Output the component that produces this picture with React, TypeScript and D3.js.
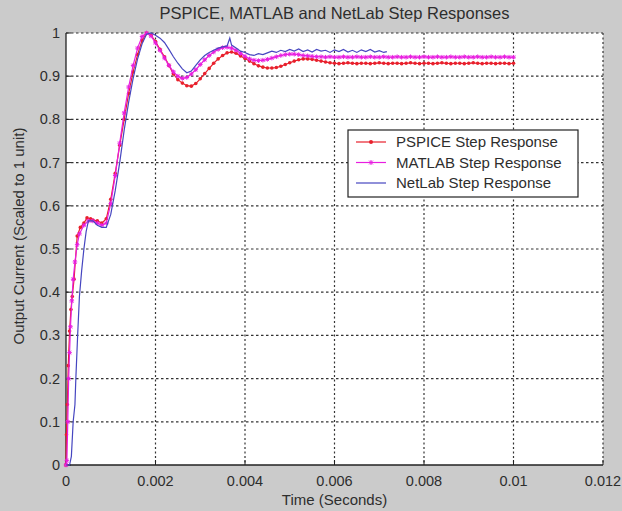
import React from "react";
import * as d3 from "d3";

const xTicks = [0, 0.002, 0.004, 0.006, 0.008, 0.01, 0.012];
const xTickLabels = ["0", "0.002", "0.004", "0.006", "0.008", "0.01", "0.012"];
const yTicks = [0, 0.1, 0.2, 0.3, 0.4, 0.5, 0.6, 0.7, 0.8, 0.9, 1];
const yTickLabels = ["0", "0.1", "0.2", "0.3", "0.4", "0.5", "0.6", "0.7", "0.8", "0.9", "1"];

const seriesNames = ["PSPICE Step Response", "MATLAB Step Response", "NetLab Step Response"];

// PSPICE
const pspiceEarlyT = [0, 0.00001, 0.00003, 0.00005, 0.00008, 0.00011, 0.00014, 0.00018, 0.00025, 0.00032, 0.0004, 0.00047, 0.00055, 0.0006];
const pspiceEarlyV = [0, 0.07, 0.14, 0.23, 0.31, 0.36, 0.39, 0.43, 0.53, 0.55, 0.56, 0.572, 0.57, 0.567];
const pspiceLateV = [
  0.565, 0.56, 0.57, 0.615, 0.675, 0.74, 0.8, 0.86, 0.91, 0.95,
  0.983, 1.0, 0.995, 0.98, 0.962, 0.945, 0.925, 0.905, 0.892, 0.884,
  0.878, 0.877, 0.883, 0.894, 0.906, 0.918, 0.93, 0.94, 0.948, 0.954,
  0.956, 0.953, 0.947, 0.941, 0.935, 0.929, 0.924, 0.921, 0.919, 0.919,
  0.92, 0.923, 0.927, 0.931, 0.935, 0.938, 0.94, 0.94, 0.939, 0.937,
  0.935, 0.933, 0.931, 0.93, 0.929, 0.93, 0.931, 0.93, 0.929, 0.93,
  0.93, 0.929, 0.93, 0.931, 0.93, 0.929, 0.93, 0.93, 0.929, 0.93,
  0.931, 0.93, 0.929, 0.93, 0.93, 0.929, 0.93, 0.931, 0.93, 0.929,
  0.93, 0.93, 0.929, 0.93, 0.931, 0.93, 0.929, 0.93, 0.93, 0.929,
  0.93, 0.93, 0.929, 0.93,
];

// MATLAB
const matlabEarlyT = [0, 0.00002, 0.00004, 0.00006, 0.00008, 0.0001, 0.00013, 0.00016, 0.0002, 0.00025, 0.0003, 0.0004, 0.0005, 0.0006];
const matlabEarlyV = [0, 0.01, 0.1, 0.2, 0.26, 0.32, 0.38, 0.43, 0.47, 0.51, 0.535, 0.555, 0.565, 0.565];
const matlabLateV = [
  0.56, 0.555, 0.56, 0.605, 0.67, 0.745, 0.815, 0.875, 0.925, 0.965,
  0.992, 1.0, 0.993, 0.977, 0.96, 0.942, 0.925, 0.91, 0.9, 0.895,
  0.897, 0.905, 0.915, 0.927, 0.938, 0.948, 0.956, 0.962, 0.966, 0.967,
  0.965, 0.96, 0.953, 0.946, 0.94, 0.937, 0.936, 0.937, 0.939, 0.942,
  0.945, 0.948, 0.95, 0.951, 0.951, 0.95, 0.948, 0.947, 0.946, 0.945,
  0.945, 0.944, 0.945, 0.944, 0.944, 0.945, 0.944, 0.944, 0.945, 0.944,
  0.944, 0.945, 0.944, 0.944, 0.945, 0.944, 0.944, 0.945, 0.944, 0.944,
  0.945, 0.944, 0.944, 0.945, 0.944, 0.944, 0.945, 0.944, 0.944, 0.945,
  0.944, 0.944, 0.945, 0.944, 0.944, 0.945, 0.944, 0.944, 0.945, 0.944,
  0.944, 0.945, 0.944, 0.944,
];

// NetLab
const netlabT = [
  0, 0.00008, 0.00012, 0.00015, 0.00016, 0.0002, 0.00022, 0.00026, 0.0003, 0.00035,
  0.0004, 0.00045, 0.0005, 0.0006, 0.0007, 0.0008, 0.0009, 0.001, 0.0011, 0.0012,
  0.0013, 0.0014, 0.0015, 0.0016, 0.0017, 0.0018, 0.0019, 0.002, 0.0021, 0.0022,
  0.0023, 0.0024, 0.0025, 0.0026, 0.0027, 0.0028, 0.0029, 0.003, 0.0031, 0.0032,
  0.0033, 0.0034, 0.0035, 0.0036, 0.00366, 0.0037, 0.0038, 0.0039, 0.004, 0.0041,
  0.0042, 0.0043, 0.0044, 0.0045, 0.0046, 0.0047, 0.0048, 0.0049, 0.005, 0.0051,
  0.0052, 0.0053, 0.0054, 0.0055, 0.0056, 0.0057, 0.0058, 0.0059, 0.006, 0.0061,
  0.0062, 0.0063, 0.0064, 0.0065, 0.0066, 0.0067, 0.0068, 0.0069, 0.007, 0.0071,
  0.00717,
];
const netlabV = [
  0, 0.0, 0.02, 0.08, 0.1, 0.14, 0.2, 0.3, 0.39, 0.45,
  0.5, 0.54, 0.565, 0.565, 0.555, 0.55, 0.55, 0.58, 0.635, 0.7,
  0.775, 0.84, 0.895, 0.94, 0.975, 0.997, 1.0, 0.995, 0.988, 0.978,
  0.962, 0.945, 0.93, 0.917, 0.908, 0.912, 0.925, 0.938, 0.948, 0.955,
  0.96, 0.965, 0.968, 0.97, 0.988, 0.972, 0.965, 0.958, 0.955, 0.95,
  0.948, 0.952, 0.95, 0.954, 0.958, 0.955, 0.96, 0.957, 0.962, 0.958,
  0.963, 0.957, 0.961, 0.956, 0.962, 0.958, 0.96, 0.955, 0.961, 0.957,
  0.962, 0.956, 0.96, 0.955, 0.961, 0.957, 0.962, 0.956, 0.959, 0.955,
  0.957,
];

const lateT = d3.range(7, 101).map((i) => i / 10000);

const W = 622;
const H = 511;
const M = { left: 66, right: 603, top: 33, bottom: 465 };

const FONT = "'Liberation Sans', Arial, sans-serif";
const TXT = "#2e2e2e";
const RED = "#e8202c";
const MAG = "#e81ee0";
const BLUE = "#4646c0";

export default function App() {
  const x = d3.scaleLinear().domain([0, 0.012]).range([M.left, M.right]);
  const y = d3.scaleLinear().domain([0, 1]).range([M.bottom, M.top]);

  const pspice = [...pspiceEarlyT.map((t, i) => [t, pspiceEarlyV[i]]), ...lateT.map((t, i) => [t, pspiceLateV[i]])].filter((d) => d[1] !== undefined);
  const matlab = [...matlabEarlyT.map((t, i) => [t, matlabEarlyV[i]]), ...lateT.map((t, i) => [t, matlabLateV[i]])].filter((d) => d[1] !== undefined);
  const netlab = netlabT.map((t, i) => [t, netlabV[i]]);

  const line = d3
    .line<number[]>()
    .x((d) => x(d[0]))
    .y((d) => y(d[1]));

  const starPath = (cx: number, cy: number, s: number) =>
    `M${cx - s},${cy}L${cx + s},${cy}M${cx},${cy - s}L${cx},${cy + s}M${cx - s * 0.75},${cy - s * 0.75}L${cx + s * 0.75},${cy + s * 0.75}M${cx - s * 0.75},${cy + s * 0.75}L${cx + s * 0.75},${cy - s * 0.75}`;

  const lg = { x: 348, y: 130, w: 230, h: 67 };
  const rows = [142, 162.5, 183];
  const colors = [RED, MAG, BLUE];

  return (
    <svg width={W} height={H} style={{ position: "absolute", left: 0, top: 0, display: "block" }} fontFamily={FONT}>
      <rect x={0} y={0} width={W} height={H} fill="#cbcbcb" />
      <rect x={M.left} y={M.top} width={M.right - M.left} height={M.bottom - M.top} fill="#ffffff" />
      {/* grid */}
      {xTicks.slice(1).map((t) => (
        <line key={"gx" + t} x1={x(t)} x2={x(t)} y1={M.top} y2={M.bottom} stroke="#333" strokeWidth={1.2} strokeDasharray="2,2.5" />
      ))}
      {yTicks.slice(1).map((t) => (
        <line key={"gy" + t} x1={M.left} x2={M.right} y1={y(t)} y2={y(t)} stroke="#333" strokeWidth={1.2} strokeDasharray="2.5,2.5" />
      ))}
      {/* axes */}
      <line x1={M.left} x2={M.left} y1={M.top} y2={M.bottom} stroke="#222" strokeWidth={1.3} />
      <line x1={M.left} x2={M.right} y1={M.bottom} y2={M.bottom} stroke="#222" strokeWidth={1.3} />
      {xTicks.map((t) => (
        <line key={"tx" + t} x1={x(t)} x2={x(t)} y1={M.bottom} y2={M.bottom - 5} stroke="#222" />
      ))}
      {yTicks.map((t) => (
        <line key={"ty" + t} x1={M.left} x2={M.left + 5} y1={y(t)} y2={y(t)} stroke="#222" />
      ))}
      {/* series */}
      <path d={line(pspice) || ""} fill="none" stroke={RED} strokeWidth={1.2} />
      {pspice.map((d, i) => (
        <circle key={"pm" + i} cx={x(d[0])} cy={y(d[1])} r={1.8} fill={RED} />
      ))}
      <path d={line(matlab) || ""} fill="none" stroke={MAG} strokeWidth={1.2} />
      {matlab.map((d, i) => (
        <path key={"mm" + i} d={starPath(x(d[0]), y(d[1]), 2.3)} stroke={MAG} strokeWidth={1} fill="none" />
      ))}
      <path d={line(netlab) || ""} fill="none" stroke={BLUE} strokeWidth={1.2} />
      {/* tick labels */}
      {xTicks.map((t, i) => (
        <text key={"lx" + t} x={x(t)} y={486} textAnchor="middle" fontSize={14.5} fill={TXT}>
          {xTickLabels[i]}
        </text>
      ))}
      {yTicks.map((t, i) => (
        <text key={"ly" + t} x={M.left - 6} y={y(t) + 5} textAnchor="end" fontSize={14.5} fill={TXT}>
          {yTickLabels[i]}
        </text>
      ))}
      <text x={(M.left + M.right) / 2} y={19} textAnchor="middle" fontSize={16.5} fill={TXT}>
        PSPICE, MATLAB and NetLab Step Responses
      </text>
      <text x={(M.left + M.right) / 2} y={505} textAnchor="middle" fontSize={15} fill={TXT}>
        Time (Seconds)
      </text>
      <text transform={`translate(24, 236) rotate(-90)`} textAnchor="middle" fontSize={15} fill={TXT}>
        Output Current (Scaled to 1 unit)
      </text>
      {/* legend */}
      <rect x={lg.x} y={lg.y} width={lg.w} height={lg.h} fill="#ffffff" stroke="#222" strokeWidth={1.2} />
      {seriesNames.map((n, i) => (
        <g key={n}>
          <line x1={lg.x + 8} x2={lg.x + 38} y1={rows[i]} y2={rows[i]} stroke={colors[i]} strokeWidth={1.2} />
          {i === 0 && <circle cx={lg.x + 23} cy={rows[i]} r={2} fill={RED} />}
          {i === 1 && <path d={starPath(lg.x + 23, rows[i], 2.5)} stroke={MAG} strokeWidth={1} />}
          <text x={lg.x + 48} y={rows[i] + 5} fontSize={15} fill={TXT}>
            {n}
          </text>
        </g>
      ))}
    </svg>
  );
}
